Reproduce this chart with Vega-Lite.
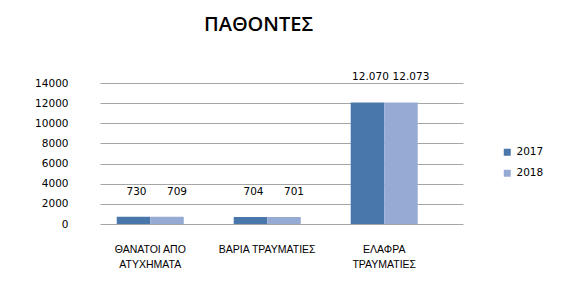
{
  "$schema": "https://vega.github.io/schema/vega-lite/v6.json",
  "autosize": "none",
  "width": 363,
  "height": 141,
  "padding": {"left": 100, "top": 83, "right": 98, "bottom": 66},
  "background": "white",
  "config": {
    "view": {"stroke": null},
    "locale": {"number": {"decimal": ",", "thousands": ".", "grouping": [3], "currency": ["", "€"]}}
  },
  "title": {
    "text": "ΠΑΘΟΝΤΕΣ",
    "font": "Open Sans",
    "fontSize": 20,
    "fontWeight": 600,
    "color": "#000000",
    "anchor": "middle",
    "dx": -23,
    "offset": 37
  },
  "data": {
    "values": [
      {"category": "ΘΑΝΑΤΟΙ ΑΠΟ ΑΤΥΧΗΜΑΤΑ", "year": "2017", "value": 730},
      {"category": "ΘΑΝΑΤΟΙ ΑΠΟ ΑΤΥΧΗΜΑΤΑ", "year": "2018", "value": 709},
      {"category": "ΒΑΡΙΑ ΤΡΑΥΜΑΤΙΕΣ", "year": "2017", "value": 704},
      {"category": "ΒΑΡΙΑ ΤΡΑΥΜΑΤΙΕΣ", "year": "2018", "value": 701},
      {"category": "ΕΛΑΦΡΑ ΤΡΑΥΜΑΤΙΕΣ", "year": "2017", "value": 12070},
      {"category": "ΕΛΑΦΡΑ ΤΡΑΥΜΑΤΙΕΣ", "year": "2018", "value": 12073}
    ]
  },
  "encoding": {
    "x": {
      "field": "category",
      "type": "nominal",
      "sort": null,
      "scale": {"paddingInner": 0.427, "paddingOuter": 0.265, "align": 0.27},
      "axis": {
        "title": null,
        "labelAngle": 0,
        "domain": false,
        "ticks": false,
        "labelPadding": 20,
        "labelFont": "Liberation Sans",
        "labelFontSize": 10.5,
        "labelColor": "#000000",
        "labelLineHeight": 15,
        "labelExpr": "datum.label == 'ΘΑΝΑΤΟΙ ΑΠΟ ΑΤΥΧΗΜΑΤΑ' ? ['ΘΑΝΑΤΟΙ ΑΠΟ', 'ΑΤΥΧΗΜΑΤΑ'] : (datum.label == 'ΕΛΑΦΡΑ ΤΡΑΥΜΑΤΙΕΣ' ? ['ΕΛΑΦΡΑ', 'ΤΡΑΥΜΑΤΙΕΣ'] : datum.label)"
      }
    },
    "xOffset": {"field": "year", "type": "nominal", "scale": {"paddingInner": 0, "paddingOuter": 0}},
    "y": {
      "field": "value",
      "type": "quantitative",
      "scale": {"domain": [0, 14000]},
      "axis": {
        "title": null,
        "values": [0, 2000, 4000, 6000, 8000, 10000, 12000, 14000],
        "format": "d",
        "domain": false,
        "ticks": false,
        "labelPadding": 32,
        "labelFont": "DejaVu Sans",
        "labelFontSize": 10.5,
        "labelColor": "#000000",
        "gridColor": "#a6a6a6",
        "gridWidth": 1
      }
    }
  },
  "layer": [
    {
      "mark": {"type": "bar"},
      "encoding": {
        "color": {
          "field": "year",
          "type": "nominal",
          "scale": {"domain": ["2017", "2018"], "range": ["#4a77ab", "#96abd3"]},
          "legend": {
            "title": null,
            "orient": "none",
            "legendX": 402,
            "legendY": 64,
            "symbolType": "square",
            "symbolSize": 49,
            "symbolStrokeWidth": 0,
            "labelFont": "DejaVu Sans",
            "labelFontSize": 10.5,
            "labelColor": "#000000",
            "rowPadding": 10
          }
        }
      }
    },
    {
      "transform": [{"filter": "datum.year == '2017'"}],
      "mark": {"type": "text", "baseline": "bottom", "dy": -20, "dx": 3, "font": "DejaVu Sans", "fontSize": 10.5, "fontWeight": "normal", "color": "#000000"},
      "encoding": {
        "text": {"field": "value", "type": "quantitative", "format": ",d"}
      }
    },
    {
      "transform": [{"filter": "datum.year == '2018'"}],
      "mark": {"type": "text", "baseline": "bottom", "dy": -20, "dx": 10, "font": "DejaVu Sans", "fontSize": 10.5, "fontWeight": "normal", "color": "#000000"},
      "encoding": {
        "text": {"field": "value", "type": "quantitative", "format": ",d"}
      }
    }
  ]
}
